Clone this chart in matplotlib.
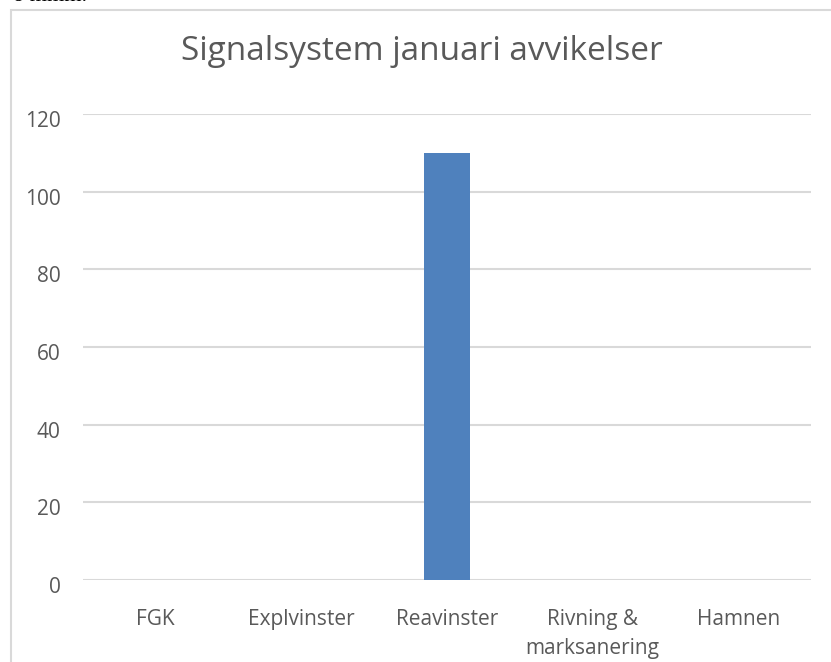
import matplotlib.pyplot as plt
import matplotlib.transforms as mtransforms
from matplotlib.patches import Rectangle

categories = ["FGK", "Explvinster", "Reavinster", "Rivning &\nmarksanering", "Hamnen"]
values = [0, 0, 110, 0, 0]
yticks = [0, 20, 40, 60, 80, 100, 120]
title = "Signalsystem januari avvikelser"

W, H = 831, 662
fig = plt.figure(figsize=(W / 100, H / 100), dpi=100)
plt.rcParams['font.family'] = ['Open Sans', 'DejaVu Sans']

# outer chart frame
fig.patches.append(Rectangle((11 / W, 1 - 700 / H), 900 / W, (700 - 10) / H,
                             transform=fig.transFigure, fill=False,
                             edgecolor='#d9d9d9', linewidth=1.5))
# cut-off document text at top
fig.text(13 / W, 1 - 1 / H, "ö mmm.", family='Liberation Serif', fontsize=16,
         va='baseline', ha='left', color='black')

left, right = 83 / W, 811 / W
bottom, top = 1 - 580 / H, 1 - 114 / H
ax = fig.add_axes([left, bottom, right - left, top - bottom])
x = list(range(len(categories)))
ax.bar(x, values, width=0.316, color='#4f81bd', zorder=3)
ax.set_xlim(-0.5, len(categories) - 0.5)
ax.set_ylim(0, 120)
ax.set_yticks(yticks)
ax.set_xticks(x)
ax.set_xticklabels(categories)
ax.grid(axis='y', color='#d9d9d9', linewidth=1.5, zorder=0)
for s in ax.spines.values():
    s.set_visible(False)
ax.tick_params(axis='both', length=0, colors='#595959', labelsize=15)
ax.tick_params(axis='y', pad=16)
ax.tick_params(axis='x', pad=21)
for lbl in ax.get_xticklabels():
    lbl.set_linespacing(1.5)
off = mtransforms.ScaledTranslation(0, -5 / 100, fig.dpi_scale_trans)
for lbl in ax.get_yticklabels():
    lbl.set_transform(lbl.get_transform() + off)

fig.text(422 / W, 1 - 52 / H, title, ha='center', va='center',
         fontsize=24, color='#595959')

fig.savefig("out.png", dpi=100)
